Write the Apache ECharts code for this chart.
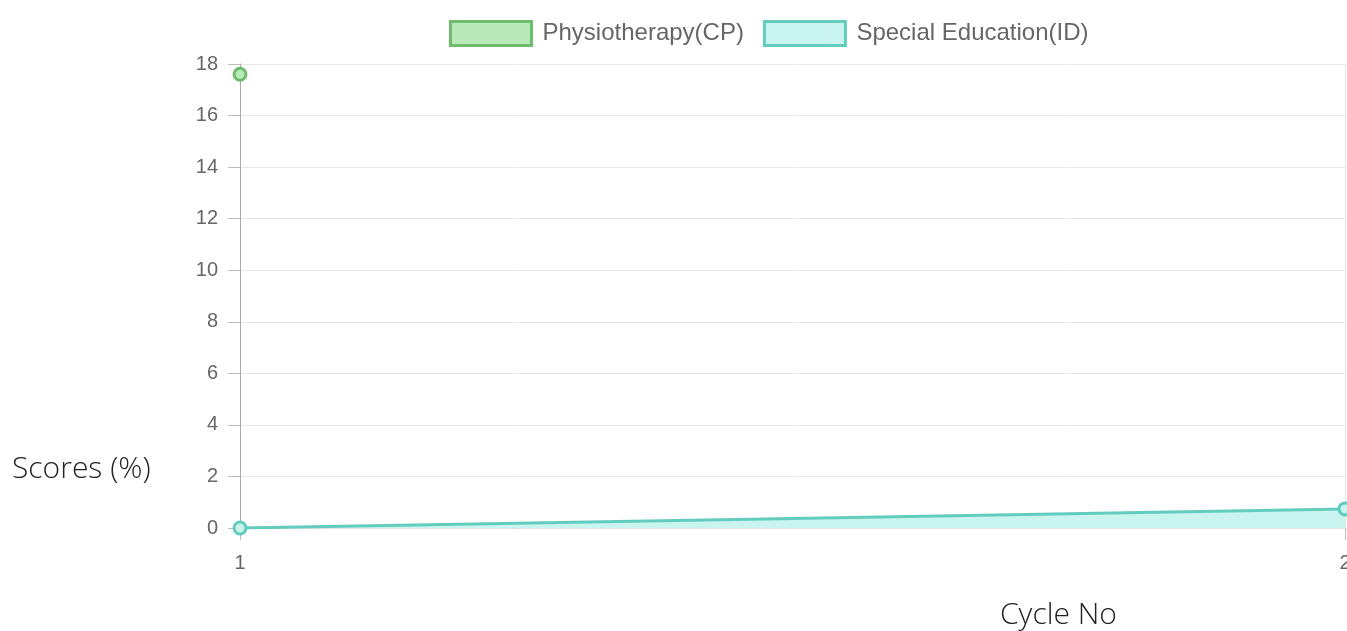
<!DOCTYPE html>
<html>
<head>
<meta charset="utf-8">
<script src="https://cdn.jsdelivr.net/npm/echarts@6/dist/echarts.min.js"></script>
<style>
  html, body { margin: 0; padding: 0; background: #fff; }
  #chart { width: 1347px; height: 631px; }
</style>
</head>
<body>
<div id="chart"></div>
<script>
// cycles on the x axis
const cycles = ['1', '2'];
// scores per series
const physioCP = [17.6, null];
const specialEduID = [0, 0.74];

const chart = echarts.init(document.getElementById('chart'));

const labelStyle = { color: '#666', fontSize: 20, fontFamily: 'Liberation Sans, Arial, sans-serif' };

chart.setOption({
  animation: false,
  legend: {
    top: 20,
    left: 449,
    padding: 0,
    itemWidth: 81,
    itemHeight: 24,
    itemGap: 19,
    textStyle: { color: '#666', fontSize: 24, fontFamily: 'Liberation Sans, Arial, sans-serif', padding: [0, 0, 0, 6] },
    data: [
      { name: 'Physiotherapy(CP)', icon: 'rect', itemStyle: { color: '#b9e8b9', borderColor: '#6dbd6d', borderWidth: 3 } },
      { name: 'Special Education(ID)', icon: 'rect', itemStyle: { color: '#c9f4ef', borderColor: '#62cdbd', borderWidth: 3 } }
    ]
  },
  grid: { left: 240, right: 2, top: 64, bottom: 103, outerBoundsMode: 'none', containLabel: false },
  xAxis: {
    type: 'category',
    boundaryGap: false,
    data: cycles,
    axisLine: { lineStyle: { color: '#e3e3e3' } },
    axisTick: { length: 12, lineStyle: { color: '#bbb' } },
    axisLabel: Object.assign({ margin: 25 }, labelStyle),
    splitLine: { show: true, lineStyle: { color: '#e8e8e8' } }
  },
  yAxis: {
    type: 'value',
    min: 0,
    max: 18,
    interval: 2,
    axisLine: { show: true, lineStyle: { color: '#aaa' } },
    axisTick: { show: true, length: 12, lineStyle: { color: '#bbb' } },
    axisLabel: Object.assign({ margin: 22 }, labelStyle),
    splitLine: { lineStyle: { color: '#e8e8e8' } }
  },
  graphic: [
    { type: 'text', left: 12, top: 454, style: { text: 'Scores (%)', fill: '#222', fontSize: 30, fontFamily: 'Open Sans, sans-serif', fontWeight: 300 } },
    { type: 'text', left: 1000, top: 600, style: { text: 'Cycle No', fill: '#222', fontSize: 30, fontFamily: 'Open Sans, sans-serif', fontWeight: 300 } }
  ],
  series: [
    {
      name: 'Physiotherapy(CP)',
      type: 'line',
      data: physioCP,
      symbol: 'circle',
      symbolSize: 12,
      showAllSymbol: true,
      lineStyle: { color: '#6dbd6d', width: 3 },
      itemStyle: { color: '#b9e8b9', borderColor: '#6dbd6d', borderWidth: 3 },
      areaStyle: { color: '#b9e8b9' }
    },
    {
      name: 'Special Education(ID)',
      type: 'line',
      data: specialEduID,
      symbol: 'circle',
      symbolSize: 12,
      showAllSymbol: true,
      lineStyle: { color: '#62cdbd', width: 3 },
      itemStyle: { color: '#c9f4ef', borderColor: '#62cdbd', borderWidth: 3 },
      areaStyle: { color: '#c9f4ef', opacity: 1 }
    }
  ]
});
</script>
</body>
</html>
